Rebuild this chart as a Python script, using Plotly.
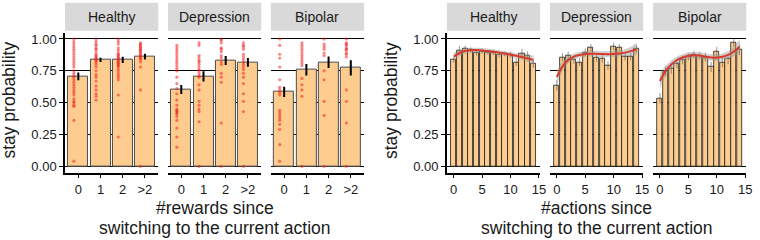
import plotly.graph_objects as go

# ---------------- data ----------------
groups = ["Healthy", "Depression", "Bipolar"]
reward_labels = ["0", "1", "2", ">2"]
reward_pos = [0, 1, 2, 3]

healthy_reward_mean = [0.706, 0.836, 0.836, 0.862]
depression_reward_mean = [0.603, 0.706, 0.831, 0.816]
bipolar_reward_mean = [0.584, 0.758, 0.818, 0.774]

healthy_reward_se = [0.030, 0.017, 0.025, 0.023]
depression_reward_se = [0.035, 0.040, 0.035, 0.035]
bipolar_reward_se = [0.040, 0.045, 0.045, 0.060]

healthy_dots = [
    [1.0, 0.98, 0.96, 0.94, 0.92, 0.90, 0.88, 0.86, 0.84, 0.82, 0.80, 0.78, 0.75, 0.73, 0.71,
     0.70, 0.68, 0.66, 0.64, 0.62, 0.60, 0.58, 0.56, 0.53, 0.51, 0.50, 0.48, 0.47, 0.36, 0.04],
    [1.0, 0.98, 0.96, 0.95, 0.93, 0.92, 0.90, 0.88, 0.87, 0.86, 0.85, 0.84, 0.83, 0.82, 0.80,
     0.78, 0.75, 0.72, 0.70, 0.67, 0.63, 0.60, 0.57, 0.55, 0.52],
    [1.0, 0.98, 0.96, 0.93, 0.91, 0.89, 0.88, 0.87, 0.86, 0.85, 0.84, 0.83, 0.82, 0.81, 0.80,
     0.79, 0.78, 0.76, 0.74, 0.72, 0.70, 0.68, 0.56, 0.23],
    [0.97, 0.96, 0.95, 0.94, 0.93, 0.92, 0.91, 0.90, 0.89, 0.88, 0.87, 0.86, 0.85, 0.84, 0.82,
     0.78, 0.60, 0.0],
]
depression_dots = [
    [0.95, 0.93, 0.91, 0.89, 0.87, 0.85, 0.83, 0.81, 0.79, 0.77, 0.75, 0.70, 0.65, 0.61, 0.57,
     0.52, 0.48, 0.45, 0.44, 0.43, 0.42, 0.41, 0.39, 0.36, 0.30, 0.23, 0.15],
    [0.97, 0.95, 0.87, 0.85, 0.83, 0.82, 0.80, 0.78, 0.76, 0.75, 0.73, 0.71, 0.70, 0.64, 0.60,
     0.51, 0.48, 0.45, 0.43, 0.35, 0.0],
    [1.0, 0.99, 0.97, 0.93, 0.92, 0.90, 0.87, 0.85, 0.82, 0.80, 0.73, 0.70, 0.66, 0.34, 0.0],
    [0.97, 0.95, 0.94, 0.92, 0.88, 0.86, 0.84, 0.82, 0.80, 0.78, 0.76, 0.73, 0.70, 0.65, 0.57,
     0.51, 0.43, 0.0],
]
bipolar_dots = [
    [1.0, 0.95, 0.88, 0.85, 0.78, 0.68, 0.62, 0.60, 0.58, 0.56, 0.44, 0.42, 0.40, 0.38, 0.36,
     0.33, 0.29, 0.17, 0.04],
    [0.97, 0.95, 0.93, 0.91, 0.89, 0.87, 0.85, 0.83, 0.81, 0.79, 0.69, 0.64, 0.60, 0.55, 0.0],
    [1.0, 0.96, 0.94, 0.92, 0.89, 0.87, 0.75, 0.68, 0.51, 0.40, 0.0],
    [1.0, 0.97, 0.96, 0.95, 0.93, 0.92, 0.91, 0.89, 0.88, 0.86, 0.60, 0.51, 0.34, 0.0],
]

actions = [0, 1, 2, 3, 4, 5, 6, 7, 8, 9, 10, 11, 12, 13, 14]
action_ticks = [0, 5, 10, 15]

healthy_action_mean = [0.836, 0.910, 0.928, 0.914, 0.896, 0.904, 0.896, 0.894, 0.878, 0.883,
                       0.878, 0.818, 0.888, 0.872, 0.805]
depression_action_mean = [0.636, 0.857, 0.870, 0.836, 0.818, 0.896, 0.930, 0.852, 0.844, 0.792,
                          0.942, 0.930, 0.862, 0.862, 0.922]
bipolar_action_mean = [0.535, 0.745, 0.766, 0.805, 0.836, 0.862, 0.878, 0.870, 0.857, 0.780,
                       0.898, 0.818, 0.844, 0.970, 0.914]

healthy_action_se = [0.020, 0.035, 0.020, 0.020, 0.025, 0.020, 0.020, 0.020, 0.025, 0.020,
                     0.025, 0.030, 0.035, 0.030, 0.030]
depression_action_se = [0.040, 0.030, 0.030, 0.030, 0.030, 0.030, 0.030, 0.030, 0.030, 0.035,
                        0.030, 0.030, 0.030, 0.030, 0.030]
bipolar_action_se = [0.040, 0.040, 0.040, 0.035, 0.035, 0.030, 0.030, 0.030, 0.035, 0.040,
                     0.040, 0.040, 0.040, 0.030, 0.040]

healthy_smooth = [0.862, 0.890, 0.905, 0.912, 0.913, 0.910, 0.905, 0.900, 0.893, 0.885,
                  0.877, 0.868, 0.858, 0.847, 0.835]
depression_smooth = [0.700, 0.785, 0.835, 0.862, 0.875, 0.882, 0.885, 0.884, 0.882, 0.881,
                     0.882, 0.886, 0.893, 0.905, 0.920]
bipolar_smooth = [0.670, 0.750, 0.800, 0.835, 0.855, 0.868, 0.872, 0.870, 0.862, 0.855,
                  0.853, 0.860, 0.875, 0.902, 0.940]
healthy_band = [0.032, 0.024, 0.020, 0.019, 0.019, 0.019, 0.019, 0.019, 0.019, 0.019,
                0.019, 0.020, 0.022, 0.026, 0.034]
depression_band = [0.055, 0.038, 0.028, 0.024, 0.023, 0.023, 0.023, 0.023, 0.023, 0.023,
                   0.023, 0.024, 0.027, 0.034, 0.046]
bipolar_band = [0.060, 0.042, 0.032, 0.026, 0.025, 0.025, 0.025, 0.025, 0.025, 0.025,
                0.025, 0.026, 0.030, 0.038, 0.050]

y_ticks = [0, 0.25, 0.5, 0.75, 1.0]
y_ticktext = ["0.00", "0.25", "0.50", "0.75", "1.00"]

# ---------------- layout helpers ----------------
W, H = 760, 240
BAR_FILL = "#FDCC8E"
FONT = "Liberation Sans, Arial, Helvetica, sans-serif"


def px_x(v):
    return v / W


def px_y(v):
    return 1 - v / H


left_dom = [(65.5, 159.5), (169.3, 263.3), (273.0, 367.0)]
right_dom = [(450.5, 544.4), (554.4, 648.3), (658.3, 752.2)]
ydom = [px_y(173.1), px_y(31.9)]

fig = go.Figure()
layout = dict(
    width=W, height=H, margin=dict(l=0, r=0, t=0, b=0),
    paper_bgcolor="white", plot_bgcolor="white", showlegend=False,
    font=dict(family=FONT, color="#1a1a1a", size=13),
)
shapes = []
annotations = []

reward_means = [healthy_reward_mean, depression_reward_mean, bipolar_reward_mean]
reward_ses = [healthy_reward_se, depression_reward_se, bipolar_reward_se]
dots_all = [healthy_dots, depression_dots, bipolar_dots]
action_means = [healthy_action_mean, depression_action_mean, bipolar_action_mean]
action_ses = [healthy_action_se, depression_action_se, bipolar_action_se]
smooths = [healthy_smooth, depression_smooth, bipolar_smooth]
bands = [healthy_band, depression_band, bipolar_band]


def yaxis_cfg(first):
    return dict(
        domain=ydom, range=[-0.05, 1.05], tickvals=y_ticks, ticktext=y_ticktext,
        showgrid=True, gridcolor="black", gridwidth=1, zeroline=False,
        showline=first, linecolor="black", linewidth=1.5,
        ticks="outside" if first else "", ticklen=4, tickwidth=1.2, tickcolor="black",
        showticklabels=first, tickfont=dict(size=13, color="#1a1a1a"),
        fixedrange=True,
    )


def strip(dom, label):
    shapes.append(dict(type="rect", xref="paper", yref="paper",
                       x0=px_x(dom[0]), x1=px_x(dom[1]), y0=px_y(30), y1=px_y(1.7),
                       fillcolor="#D9D9D9", line=dict(width=0), layer="below"))
    annotations.append(dict(xref="paper", yref="paper", x=px_x((dom[0] + dom[1]) / 2),
                            y=px_y(16), text=label, showarrow=False,
                            font=dict(size=14, color="#1a1a1a"),
                            xanchor="center", yanchor="middle"))


ax = 0
# ----- left group: rewards -----
for g in range(3):
    ax += 1
    xn = "x" if ax == 1 else f"x{ax}"
    yn = "y" if ax == 1 else f"y{ax}"
    fig.add_trace(go.Bar(x=reward_pos, y=reward_means[g], width=0.9,
                         marker=dict(color=BAR_FILL, line=dict(color="#4d4d4d", width=1)),
                         xaxis=xn, yaxis=yn, hoverinfo="skip"))
    dx, dy = [], []
    for i, vals in enumerate(dots_all[g]):
        for v in vals:
            dx.append(reward_pos[i] - 0.2)
            dy.append(v)
    fig.add_trace(go.Scatter(x=dx, y=dy, mode="markers",
                             marker=dict(size=3.2, color="rgba(240,20,20,0.5)", line=dict(width=0)),
                             xaxis=xn, yaxis=yn, hoverinfo="skip"))
    ex, ey = [], []
    for i in range(4):
        ex += [reward_pos[i], reward_pos[i], None]
        ey += [reward_means[g][i] - reward_ses[g][i], reward_means[g][i] + reward_ses[g][i], None]
    fig.add_trace(go.Scatter(x=ex, y=ey, mode="lines", line=dict(color="black", width=2),
                             xaxis=xn, yaxis=yn, hoverinfo="skip"))
    dom = left_dom[g]
    layout["xaxis" if ax == 1 else f"xaxis{ax}"] = dict(
        domain=[px_x(dom[0]), px_x(dom[1])], range=[-0.6, 3.6],
        tickvals=reward_pos, ticktext=reward_labels, showgrid=False, zeroline=False,
        showline=True, linecolor="black", linewidth=1.5, ticks="outside", ticklen=4,
        tickwidth=1.2, tickcolor="black", tickfont=dict(size=13, color="#1a1a1a"),
        anchor=yn, fixedrange=True)
    ycfg = yaxis_cfg(g == 0)
    ycfg["anchor"] = xn
    layout["yaxis" if ax == 1 else f"yaxis{ax}"] = ycfg
    strip(dom, groups[g])

# ----- right group: actions -----
for g in range(3):
    ax += 1
    xn = f"x{ax}"
    yn = f"y{ax}"
    fig.add_trace(go.Bar(x=actions, y=action_means[g], width=0.9,
                         marker=dict(color=BAR_FILL, line=dict(color="#1a1a1a", width=0.8)),
                         xaxis=xn, yaxis=yn, hoverinfo="skip"))
    ex, ey = [], []
    for i in range(len(actions)):
        ex += [actions[i], actions[i], None]
        ey += [action_means[g][i] - action_ses[g][i], action_means[g][i] + action_ses[g][i], None]
    fig.add_trace(go.Scatter(x=ex, y=ey, mode="lines",
                             line=dict(color="rgba(70,70,70,0.55)", width=1),
                             xaxis=xn, yaxis=yn, hoverinfo="skip"))
    up = [s + b for s, b in zip(smooths[g], bands[g])]
    lo = [s - b for s, b in zip(smooths[g], bands[g])]
    fig.add_trace(go.Scatter(x=actions + actions[::-1], y=up + lo[::-1], mode="lines",
                             fill="toself", fillcolor="rgba(150,150,150,0.45)",
                             line=dict(width=0, shape="spline", smoothing=0.8),
                             xaxis=xn, yaxis=yn, hoverinfo="skip"))
    fig.add_trace(go.Scatter(x=actions, y=smooths[g], mode="lines",
                             line=dict(color="#D93A2B", width=2, shape="spline", smoothing=0.8),
                             xaxis=xn, yaxis=yn, hoverinfo="skip"))
    dom = right_dom[g]
    layout[f"xaxis{ax}"] = dict(
        domain=[px_x(dom[0]), px_x(dom[1])], range=[-1.195, 15.195],
        tickvals=action_ticks, ticktext=[str(t) for t in action_ticks],
        showgrid=False, zeroline=False,
        showline=True, linecolor="black", linewidth=1.5, ticks="outside", ticklen=4,
        tickwidth=1.2, tickcolor="black", tickfont=dict(size=13, color="#1a1a1a"),
        anchor=yn, fixedrange=True)
    ycfg = yaxis_cfg(g == 0)
    ycfg["anchor"] = xn
    layout[f"yaxis{ax}"] = ycfg
    strip(dom, groups[g])

# ----- axis titles -----
TITLE = dict(size=17.5, color="#1a1a1a")
for cx, lines in [((65.5 + 367.0) / 2, ["#rewards since", "switching to the current action"]),
                  ((450.5 + 752.2) / 2, ["#actions since", "switching to the current action"])]:
    for ly, txt in zip([209, 229], lines):
        annotations.append(dict(xref="paper", yref="paper", x=px_x(cx), y=px_y(ly), text=txt,
                                showarrow=False, font=TITLE, xanchor="center", yanchor="middle"))
for cx in [9.5, 394.0]:
    annotations.append(dict(xref="paper", yref="paper", x=px_x(cx), y=px_y(100), text="stay probability",
                            textangle=-90, showarrow=False, font=TITLE,
                            xanchor="center", yanchor="middle"))

layout["shapes"] = shapes
layout["annotations"] = annotations
fig.update_layout(**layout)
fig.update_layout(bargap=0)
fig.write_html("out.html", config={"displayModeBar": False},
               post_script="document.body.style.margin='0';document.body.style.padding='0';")
